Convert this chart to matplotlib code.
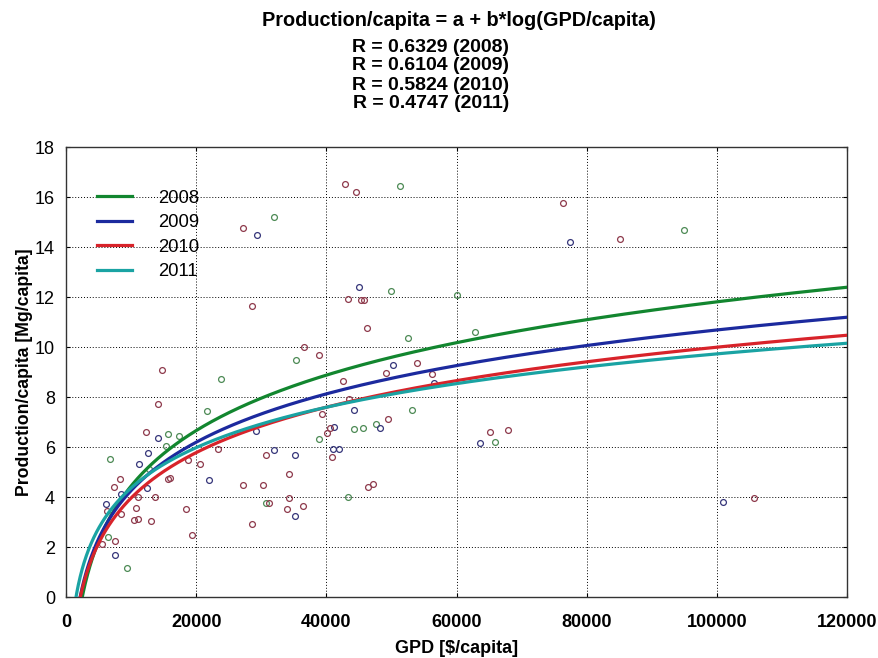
import numpy as np
import matplotlib
matplotlib.use("Agg")
import matplotlib.pyplot as plt

# ---------------- data ----------------
years = ["2008", "2009", "2010", "2011"]
r_values = [0.6329, 0.6104, 0.5824, 0.4747]
# fitted curve coefficients: Production/capita = a + b*ln(GPD/capita)
coef_b = [3.20, 2.79, 2.62, 2.33]
coef_a = [12.39 - 3.20 * np.log(120000), 11.19 - 2.79 * np.log(120000),
          10.47 - 2.62 * np.log(120000), 10.15 - 2.33 * np.log(120000)]

green_x = [51.3, 49.9, 60.0, 52.5, 62.8, 95.0, 53.2, 47.7, 65.9, 35.3, 23.8, 21.6, 38.8,
           44.3, 45.6, 43.3, 30.7, 32.0, 15.6, 17.4, 15.4, 6.8, 12.7, 6.5, 9.4]
green_y = [16.45, 12.24, 12.08, 10.35, 10.61, 14.69, 7.48, 6.93, 6.19, 9.49, 8.73, 7.45, 6.33,
           6.71, 6.76, 4.01, 3.75, 15.21, 6.51, 6.45, 6.05, 5.52, 5.11, 2.41, 1.17]

blue_x = [45.0, 77.5, 101.0, 50.3, 56.5, 48.3, 63.6, 44.2, 41.2, 29.2, 31.9, 35.2, 41.1,
          42.0, 22.0, 35.2, 29.4, 14.2, 12.6, 11.2, 8.4, 12.5, 6.2, 7.6]
blue_y = [12.41, 14.19, 3.79, 9.29, 8.57, 6.75, 6.16, 7.48, 6.80, 6.63, 5.89, 5.69, 5.91,
          5.91, 4.69, 3.24, 14.48, 6.37, 5.75, 5.31, 4.11, 4.35, 3.72, 1.69]

red_x = [42.9, 44.5, 43.3, 45.3, 45.8, 46.3, 76.3, 85.1, 105.7, 54.0, 49.1, 56.3, 49.4,
         65.1, 67.9, 47.1, 46.4, 38.8, 42.5, 43.5, 39.4, 40.5, 40.1, 23.4, 30.7, 40.8,
         20.6, 34.2, 27.2, 30.2, 31.2, 34.2, 34.0, 36.4, 28.6, 27.2, 28.6, 36.5, 14.2,
         12.3, 14.7, 18.8, 8.3, 7.3, 15.7, 16.0, 11.0, 13.7, 6.3, 8.4, 10.8, 10.4, 11.1,
         13.0, 18.4, 19.4, 7.5, 5.5]
red_y = [16.53, 16.19, 11.91, 11.87, 11.87, 10.75, 15.76, 14.31, 3.97, 9.37, 8.95, 8.91, 7.13,
         6.59, 6.69, 4.52, 4.41, 9.68, 8.65, 7.93, 7.31, 6.75, 6.57, 5.93, 5.69, 5.61,
         5.31, 4.92, 4.49, 4.49, 3.75, 3.96, 3.53, 3.63, 2.91, 14.77, 11.65, 10.01, 7.71,
         6.59, 9.08, 5.48, 4.71, 4.41, 4.73, 4.77, 3.99, 4.01, 3.45, 3.31, 3.55, 3.08, 3.11,
         3.03, 3.51, 2.47, 2.25, 2.12]

x_ticks = [0, 20000, 40000, 60000, 80000, 100000, 120000]
y_ticks = [0, 2, 4, 6, 8, 10, 12, 14, 16, 18]

line_colors = ["#12862f", "#1c2a9e", "#d8232a", "#1aa3a3"]
point_colors = {"green": "#4d8a55", "blue": "#36367a", "red": "#8e3a4c"}

# ---------------- figure ----------------
plt.rcParams["font.family"] = ["Liberation Sans", "DejaVu Sans"]

fig = plt.figure(figsize=(8.79, 6.58), dpi=100)
ax = fig.add_axes([66 / 879, 1 - 597 / 658, (847 - 66) / 879, (597 - 147) / 658])

for xs, ys, key in [(green_x, green_y, "green"), (blue_x, blue_y, "blue"), (red_x, red_y, "red")]:
    ax.plot(np.array(xs) * 1000, ys, linestyle="none", marker="o", markersize=4.2,
            markerfacecolor="none", markeredgecolor=point_colors[key], markeredgewidth=0.9,
            zorder=3)

xx = np.linspace(1000, 120000, 2000)
for yr, a, b, c in zip(years, coef_a, coef_b, line_colors):
    ax.plot(xx, a + b * np.log(xx), color=c, linewidth=2.3, label=yr, zorder=4)

ax.set_xlim(0, 120000)
ax.set_ylim(0, 18)
ax.set_xticks(x_ticks)
ax.set_yticks(y_ticks)
ax.set_xticklabels([str(t) for t in x_ticks], fontsize=13, fontweight="bold")
ax.set_yticklabels([str(t) for t in y_ticks], fontsize=13)
ax.grid(True, linestyle=(0, (1, 2)), color="black", linewidth=0.7)
ax.tick_params(direction="in", length=3, top=True, right=True, width=0.8)
ax.tick_params(axis="x", pad=12)
ax.tick_params(axis="y", pad=8)
for sp in ax.spines.values():
    sp.set_color("#333333")
    sp.set_linewidth(1.0)

ax.set_xlabel("GPD [$/capita]", fontsize=13, fontweight="bold", labelpad=7)
ax.set_ylabel("Production/capita [Mg/capita]", fontsize=12.7, fontweight="bold", labelpad=1)

leg = ax.legend(loc="upper left", bbox_to_anchor=(0.040, 0.905), frameon=False, fontsize=13.3,
                handlelength=1.9, handletextpad=1.4, labelspacing=0.41,
                borderaxespad=0.0, borderpad=0.0)

fig.text(0.522, 1 - 21 / 658, "Production/capita = a + b*log(GPD/capita)",
         ha="center", va="center", fontsize=14.3, fontweight="bold")
for i, (r, yr) in enumerate(zip(r_values, years)):
    fig.text(431 / 879, 1 - (47 + 19 * i) / 658, f"R = {r:.4f} ({yr})",
             ha="center", va="center", fontsize=14, fontweight="bold")

fig.savefig("out.png", dpi=100)
